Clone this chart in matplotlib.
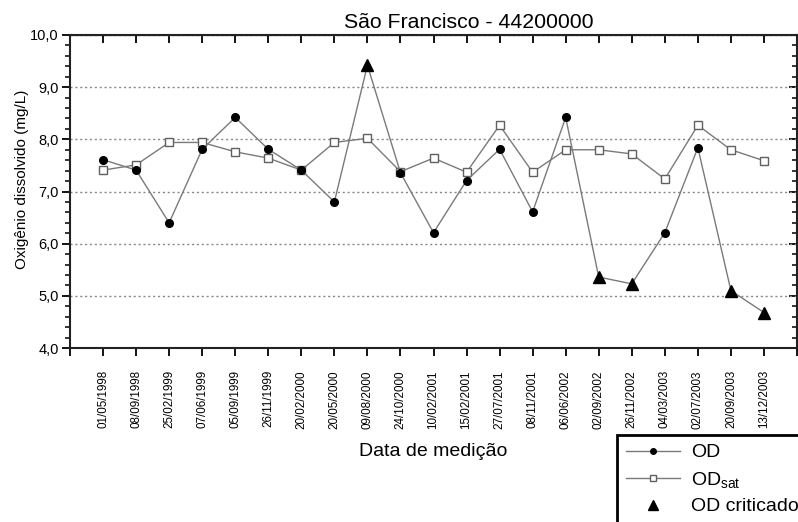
import numpy as np
import matplotlib
matplotlib.use("Agg")
import matplotlib.pyplot as plt
from matplotlib.ticker import MultipleLocator, FuncFormatter
from matplotlib.lines import Line2D

plt.rcParams['font.family'] = ['Liberation Sans', 'DejaVu Sans']
plt.rcParams['mathtext.fontset'] = 'custom'
plt.rcParams['mathtext.rm'] = 'Liberation Sans'
plt.rcParams['mathtext.it'] = 'Liberation Sans'

dates = ["01/05/1998", "08/09/1998", "25/02/1999", "07/06/1999", "05/09/1999",
         "26/11/1999", "20/02/2000", "20/05/2000", "09/08/2000", "24/10/2000",
         "10/02/2001", "15/02/2001", "27/07/2001", "08/11/2001", "06/06/2002",
         "02/09/2002", "26/11/2002", "04/03/2003", "02/07/2003", "20/09/2003",
         "13/12/2003"]
od = [7.61, 7.41, 6.40, 7.81, 8.42, 7.81, 7.41, 6.80, 9.42, 7.36,
      6.21, 7.21, 7.81, 6.61, 8.42, 5.36, 5.23, 6.21, 7.84, 5.10, 4.68]
od_sat = [7.41, 7.51, 7.94, 7.94, 7.76, 7.64, 7.41, 7.94, 8.02, 7.38,
          7.64, 7.37, 8.27, 7.37, 7.80, 7.80, 7.72, 7.24, 8.27, 7.80, 7.59]
od_crit = [None, None, None, None, None, None, None, None, 9.42, None,
           None, None, None, None, None, 5.36, 5.23, None, None, 5.10, 4.68]

x = np.arange(1, len(dates) + 1)
crit = np.array([np.nan if v is None else v for v in od_crit])
normal = [i for i, v in enumerate(od_crit) if v is None]

fig = plt.figure(figsize=(7.98, 5.22), dpi=100)
ax = fig.add_axes([70/798, 1-348/522, 727/798, 313/522])

line_c = '#7a7a7a'
ax.plot(x, od_sat, color=line_c, lw=1, marker='s', ms=5.5, mfc='white',
        mec='#606060', mew=1, zorder=3)
ax.plot(x, od, color=line_c, lw=1, marker='o', ms=5.5, mfc='black',
        mec='black', markevery=normal, zorder=4)
ax.plot(x, crit, ls='none', marker='^', ms=8, color='black', zorder=5)

ax.set_xlim(0, 22)
ax.set_ylim(4, 10)

ax.set_yticks(np.arange(4, 10.1, 1))
ax.yaxis.set_minor_locator(MultipleLocator(0.2))
ax.yaxis.set_major_formatter(FuncFormatter(lambda v, p: f"{v:.1f}".replace('.', ',')))
ax.tick_params(axis='y', which='major', direction='out', length=6, width=1.3,
               labelsize=10.5, pad=2)
ax.tick_params(axis='y', which='minor', direction='out', length=3.5, width=1.1)

ax.set_xticks(np.arange(0, 23))
ax.set_xticklabels([''] + dates + [''], rotation=90, fontsize=8.4)
ax.tick_params(axis='x', direction='out', length=6, width=1.3, pad=10)

ax.yaxis.grid(True, which='major', linestyle=(0, (1.5, 2)), color='#888888', lw=1)
for s in ax.spines.values():
    s.set_linewidth(1.5)
    s.set_color('#222222')

top = ax.secondary_xaxis('top')
top.set_xticks(x)
top.tick_params(direction='in', length=6, width=1.3, labeltop=False)
right = ax.secondary_yaxis('right')
right.set_yticks(np.arange(4, 10.1, 1))
right.yaxis.set_minor_locator(MultipleLocator(0.2))
right.tick_params(which='major', direction='in', length=6, width=1.3, labelright=False)
right.tick_params(which='minor', direction='in', length=3.5, width=1.1)

fig.text(0.587, 1-22/522, "São Francisco - 44200000", ha='center', va='center',
         fontsize=15.3)
fig.text(0.543, 1-452/522, "Data de medição", ha='center', va='center', fontsize=14)
fig.text(22/798, 1-179/522, "Oxigênio dissolvido (mg/L)", ha='center', va='center',
         rotation=90, fontsize=11)

handles = [
    Line2D([], [], color=line_c, lw=1, marker='o', ms=4, mfc='black', mec='black'),
    Line2D([], [], color=line_c, lw=1, marker='s', ms=4.5, mfc='white', mec='#606060'),
    Line2D([], [], ls='none', marker='^', ms=7, color='black'),
]
leg = fig.legend(handles, ["OD", "OD$_{\\mathrm{sat}}$", "OD criticado"],
                 loc='upper left', bbox_to_anchor=(617/798, 1-435/522),
                 fontsize=14, handlelength=2.8, handletextpad=0.55,
                 labelspacing=0.42, borderaxespad=0, borderpad=0.45,
                 fancybox=False, framealpha=1, edgecolor='black')
leg.get_frame().set_linewidth(2)

fig.savefig("out.png", dpi=100)
